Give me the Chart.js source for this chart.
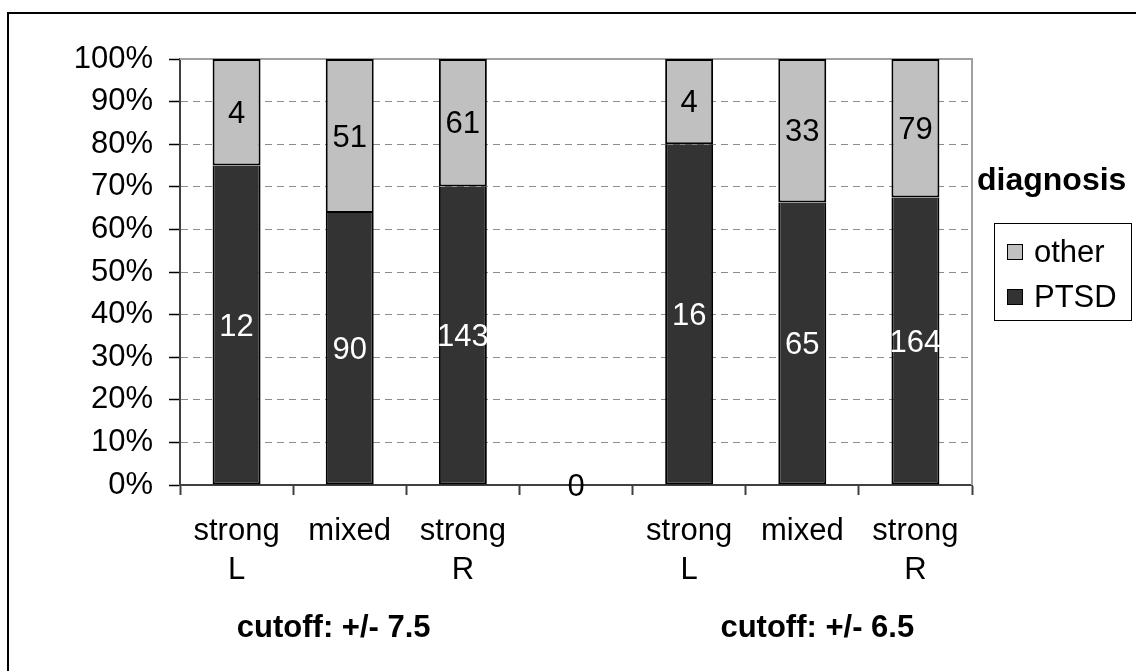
<!DOCTYPE html>
<html>
<head>
<meta charset="utf-8">
<script src="https://cdn.jsdelivr.net/npm/chart.js@4.4.1/dist/chart.umd.min.js"></script>
<style>
  html, body { margin: 0; padding: 0; background: #fff; }
  canvas { display: block; }
</style>
</head>
<body>
<canvas id="chart" width="1136" height="671"></canvas>
<script>
// Handedness groups under two cutoffs, with an empty slot between them
const categories = [['strong', 'L'], 'mixed', ['strong', 'R'], '', ['strong', 'L'], 'mixed', ['strong', 'R']];
const ptsdCounts = [12, 90, 143, null, 16, 65, 164];
const otherCounts = [4, 51, 61, 0, 4, 33, 79];
const seriesNames = ['PTSD', 'other'];
const groupLabels = ['cutoff: +/- 7.5', 'cutoff: +/- 6.5'];
const legendTitle = 'diagnosis';

const FONT = "'Liberation Sans', Arial, Helvetica, sans-serif";
const DARK = '#333333';
const LIGHT = '#c0c0c0';

// Share of each column's total, in percent (100% stacked columns)
function shareOf(series, a, b) {
  return series.map((v, i) => {
    if (v === null) return null;
    const total = (a[i] || 0) + (b[i] || 0);
    return total ? v / total * 100 : 0;
  });
}
const ptsdShare = shareOf(ptsdCounts, ptsdCounts, otherCounts);
const otherShare = shareOf(otherCounts, ptsdCounts, otherCounts);

// Outer frame, plot frame (top/right), value labels, legend and group captions
const decorations = {
  id: 'decorations',
  beforeDraw(chart) {
    const ctx = chart.ctx;
    ctx.save();
    ctx.fillStyle = '#fff';
    ctx.fillRect(0, 0, chart.width, chart.height);
    ctx.strokeStyle = '#000';
    ctx.lineWidth = 2;
    ctx.beginPath();
    ctx.moveTo(8, chart.height);
    ctx.lineTo(8, 13);
    ctx.lineTo(chart.width, 13);
    ctx.stroke();
    ctx.restore();
  },
  beforeDatasetsDraw(chart) {
    const {ctx, chartArea: a} = chart;
    ctx.save();
    ctx.strokeStyle = '#a0a0a0';
    ctx.lineWidth = 2;
    ctx.beginPath();
    ctx.moveTo(a.left, a.top);
    ctx.lineTo(a.right, a.top);
    ctx.lineTo(a.right, a.bottom);
    ctx.stroke();
    ctx.restore();
  },
  afterDatasetsDraw(chart) {
    const ctx = chart.ctx;
    const counts = [ptsdCounts, otherCounts];
    const colors = ['#ffffff', '#000000'];
    ctx.save();
    ctx.font = '31px ' + FONT;
    ctx.textAlign = 'center';
    ctx.textBaseline = 'middle';
    chart.data.datasets.forEach((ds, di) => {
      const meta = chart.getDatasetMeta(di);
      meta.data.forEach((bar, i) => {
        const v = counts[di][i];
        if (v === null || v === undefined) return;
        ctx.fillStyle = colors[di];
        ctx.fillText(String(v), bar.x, (bar.y + bar.base) / 2 + 2);
      });
    });
    ctx.restore();
  },
  afterDraw(chart) {
    const ctx = chart.ctx;
    const x = chart.scales.x;
    ctx.save();
    // group captions under the category labels
    ctx.font = 'bold 31px ' + FONT;
    ctx.fillStyle = '#000';
    ctx.textAlign = 'center';
    ctx.textBaseline = 'alphabetic';
    ctx.fillText(groupLabels[0], x.getPixelForValue(1) - 16, 637);
    ctx.fillText(groupLabels[1], x.getPixelForValue(5) + 15, 637);

    // legend
    ctx.font = 'bold 32px ' + FONT;
    ctx.textAlign = 'left';
    ctx.fillText(legendTitle, 977, 190);
    ctx.strokeStyle = '#000';
    ctx.lineWidth = 1;
    ctx.strokeRect(994.5, 223.5, 137, 97);
    ctx.font = '31px ' + FONT;
    ctx.textBaseline = 'middle';
    const items = chart.data.datasets.slice().reverse();
    items.forEach((ds, k) => {
      const cy = 252 + k * 45;
      ctx.fillStyle = ds.backgroundColor;
      ctx.fillRect(1007, cy - 8, 16, 16);
      ctx.strokeStyle = '#000';
      ctx.strokeRect(1007.5, cy - 7.5, 15, 15);
      ctx.fillStyle = '#000';
      ctx.fillText(ds.label, 1034, cy + 1);
    });
    ctx.restore();
  }
};

new Chart(document.getElementById('chart'), {
  type: 'bar',
  data: {
    labels: categories,
    datasets: [
      {
        label: seriesNames[0],
        data: ptsdShare,
        backgroundColor: DARK,
        borderColor: '#000',
        borderWidth: 2,
        borderSkipped: 'top'
      },
      {
        label: seriesNames[1],
        data: otherShare,
        backgroundColor: LIGHT,
        borderColor: '#000',
        borderWidth: 2,
        borderSkipped: false
      }
    ]
  },
  options: {
    responsive: false,
    animation: false,
    devicePixelRatio: 1,
    layout: { padding: { top: 59, right: 164, bottom: 86, left: 0 } },
    datasets: { bar: { categoryPercentage: 1, barPercentage: 0.424 } },
    plugins: {
      legend: { display: false },
      tooltip: { enabled: false },
      title: { display: false }
    },
    scales: {
      x: {
        stacked: true,
        offset: true,
        afterFit(s) { s.height = 100; },
        grid: {
          offset: true,
          drawOnChartArea: false,
          drawTicks: true,
          tickLength: 10,
          tickColor: '#404040',
          tickWidth: 2
        },
        border: { display: true, color: '#404040', width: 2 },
        ticks: {
          autoSkip: false,
          maxRotation: 0,
          padding: 17,
          color: '#000',
          font: { family: FONT, size: 31, lineHeight: 1.26 }
        }
      },
      y: {
        stacked: true,
        min: 0,
        max: 100,
        afterFit(s) { s.width = 180; },
        grid: {
          color: (c) => (c.tick && (c.tick.value === 0 || c.tick.value === 100)) ? 'rgba(0,0,0,0)' : '#8c8c8c',
          lineWidth: 1,
          tickLength: 11,
          tickColor: '#000',
          tickWidth: 1.5
        },
        border: { display: true, color: '#404040', width: 2, dash: [7, 5] },
        ticks: {
          stepSize: 10,
          padding: 16,
          color: '#000',
          font: { family: FONT, size: 31 },
          callback: (v) => v + '%'
        }
      }
    }
  },
  plugins: [decorations]
});
</script>
</body>
</html>
